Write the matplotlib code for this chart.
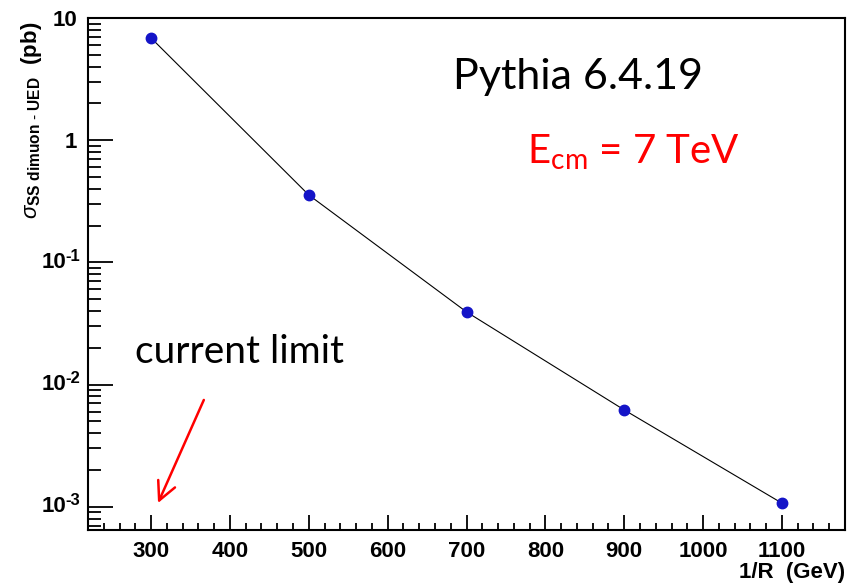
import numpy as np
import matplotlib
matplotlib.use('Agg')
import matplotlib.pyplot as plt
from matplotlib.ticker import FixedLocator, MultipleLocator, LogLocator, NullFormatter
from matplotlib.transforms import blended_transform_factory, offset_copy

# 1/R (GeV) vs sigma (pb)
inv_r = [300, 500, 700, 900, 1100]
sigma = [6.86, 0.356, 0.0393, 0.0062, 0.00107]

y_ticks = [1e-3, 1e-2, 1e-1, 1, 10]
y_plain = ['', '', '', '1', '10']
y_exp = ['-3', '-2', '-1']          # drawn as 10 with raised exponent (ROOT style)
x_ticks = [300, 400, 500, 600, 700, 800, 900, 1000, 1100]

plt.rcParams['font.family'] = ['Liberation Sans', 'DejaVu Sans']
plt.rcParams['mathtext.fontset'] = 'custom'
plt.rcParams['mathtext.rm'] = 'Liberation Sans'
plt.rcParams['mathtext.bf'] = 'Liberation Sans:bold'
plt.rcParams['mathtext.it'] = 'Liberation Sans:italic'

fig = plt.figure(figsize=(8.5, 5.87), dpi=100)
ax = fig.add_axes([88 / 850, 1 - 530 / 587, 757 / 850, 512 / 587])

ax.plot(inv_r, sigma, color='black', lw=0.8, zorder=2)
ax.plot(inv_r, sigma, 'o', color='#1414c8', ms=7.5, mec='#1414c8', zorder=3)

ax.set_yscale('log')
ax.set_xlim(220, 1180)
ax.set_ylim(6.45e-4, 10)

ax.xaxis.set_major_locator(FixedLocator(x_ticks))
ax.xaxis.set_minor_locator(MultipleLocator(20))
ax.set_xticklabels([str(t) for t in x_ticks], fontsize=16, fontweight='bold')
ax.yaxis.set_major_locator(FixedLocator(y_ticks))
ax.yaxis.set_minor_locator(LogLocator(base=10, subs=np.arange(2, 10)))
ax.yaxis.set_minor_formatter(NullFormatter())
ax.set_yticklabels(y_plain, fontsize=16, fontweight='bold')

# power-of-ten labels
trans = blended_transform_factory(ax.transAxes, ax.transData)
for v, e in zip(y_ticks[:3], y_exp):
    ax.text(0, v, '10', transform=offset_copy(trans, fig, x=-22, y=0, units='dots'),
            ha='right', va='center', fontsize=16, fontweight='bold', clip_on=False)
    ax.text(0, v, e, transform=offset_copy(trans, fig, x=-8, y=6, units='dots'),
            ha='right', va='center', fontsize=12, fontweight='bold', clip_on=False)

ax.tick_params(axis='both', which='both', direction='in', top=False, right=False, width=1.3)
ax.tick_params(axis='y', which='major', length=18, pad=8)
ax.tick_params(axis='y', which='minor', length=9)
ax.tick_params(axis='x', which='major', length=11, pad=8)
ax.tick_params(axis='x', which='minor', length=5)
for s in ax.spines.values():
    s.set_linewidth(1.5)

ax.set_xlabel('1/R  (GeV)', fontsize=16, fontweight='bold', loc='right', labelpad=0)
ax.set_ylabel(r'$\sigma_{\mathbf{SS\ dimuon\ \text{-}\ UED}}$  (pb)', fontsize=16,
              fontweight='bold', loc='top')
ax.yaxis.set_label_coords(-0.058, 0.992)

txt_font = ['Lato', 'DejaVu Sans']
ax.text(0.482, 0.885, 'Pythia 6.4.19', transform=ax.transAxes, fontsize=31,
        family=txt_font, va='center', ha='left')
ax.text(0.580, 0.738, r'E$_{\mathregular{cm}}$ = 7 TeV', transform=ax.transAxes,
        fontsize=29, family=txt_font, color='red', va='center', ha='left')
ax.text(0.062, 0.348, 'current limit', transform=ax.transAxes, fontsize=28,
        family=txt_font, va='center', ha='left')
ax.annotate('', xy=(0.0925, 0.0527), xytext=(0.153, 0.254),
            xycoords='axes fraction', textcoords='axes fraction',
            arrowprops=dict(arrowstyle='->,head_length=0.6,head_width=0.3',
                            color='red', lw=1.8, mutation_scale=22,
                            shrinkA=0, shrinkB=0))

fig.savefig('out.png', dpi=100)
